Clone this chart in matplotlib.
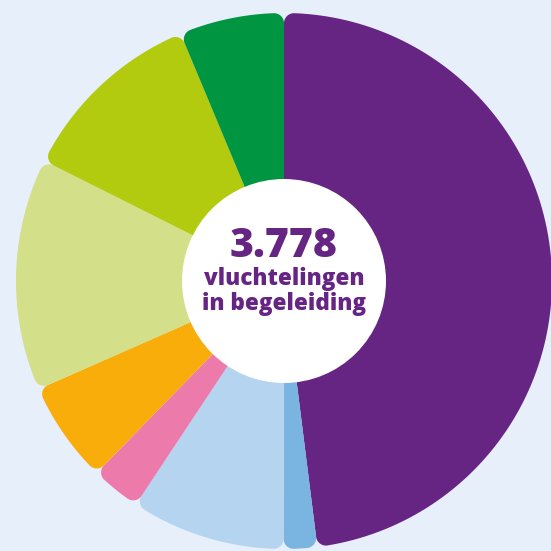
import matplotlib.pyplot as plt
import numpy as np
from matplotlib.path import Path
from matplotlib.patches import PathPatch, Circle

# waarden, met de klok mee vanaf 12 uur
values = [1814, 76, 351, 113, 230, 529, 427, 238]
colors = ['#662483', '#7ab5e2', '#b5d4ef', '#ec7bac',
          '#f9ad0b', '#d4df8a', '#b2cb0f', '#009641']
total_label = '3.778'
sub_lines = ['vluchtelingen', 'in begeleiding']

bg = '#e7effa'
purple = '#662483'

R = 1.0          # buitenstraal
c = 10 / 268     # afronding van de hoeken
hole = 102 / 268


def pt(r, phi):
    # phi in graden, met de klok mee vanaf boven
    a = np.radians(phi)
    return np.array([r * np.sin(a), r * np.cos(a)])


def wedge_path(p1, p2):
    d = np.degrees(np.arcsin(c / (R - c)))
    pts = [pt(0, 0)]
    # afgeronde hoek 1
    c1 = pt(R - c, p1 + d)
    for psi in np.linspace(p1 - 90, p1 + d, 20):
        pts.append(c1 + pt(c, psi))
    for phi in np.linspace(p1 + d, p2 - d, 120):
        pts.append(pt(R, phi))
    c2 = pt(R - c, p2 - d)
    for psi in np.linspace(p2 - d, p2 + 90, 20):
        pts.append(c2 + pt(c, psi))
    pts.append(pt(0, 0))
    return Path(np.array(pts), closed=True)


fig = plt.figure(figsize=(5.51, 5.51), dpi=100)
fig.patch.set_facecolor(bg)
ax = fig.add_axes([0, 0, 1, 1])
ax.set_facecolor(bg)

fracs = np.array(values) / sum(values)
edges = np.concatenate([[0], np.cumsum(fracs) * 360])
for i, col in enumerate(colors):
    ax.add_patch(PathPatch(wedge_path(edges[i], edges[i + 1]),
                           facecolor=col, edgecolor='none'))

ax.add_patch(Circle((0, 0), hole, facecolor='white', edgecolor='none'))

ax.text(0, 0.09, total_label, ha='center', va='baseline', color=purple,
        fontsize=29.5, fontweight='heavy', family='Open Sans')
for y, line in zip([-0.015, -0.108], sub_lines):
    ax.text(0, y, line, ha='center', va='baseline', color=purple,
            fontsize=16.2, fontweight='heavy', family='Open Sans')

ax.set_xlim(-284 / 268, 267 / 268)
ax.set_ylim(-270 / 268, 281 / 268)
ax.set_aspect('equal')
ax.axis('off')

plt.savefig('out.png', dpi=100, facecolor=bg)
